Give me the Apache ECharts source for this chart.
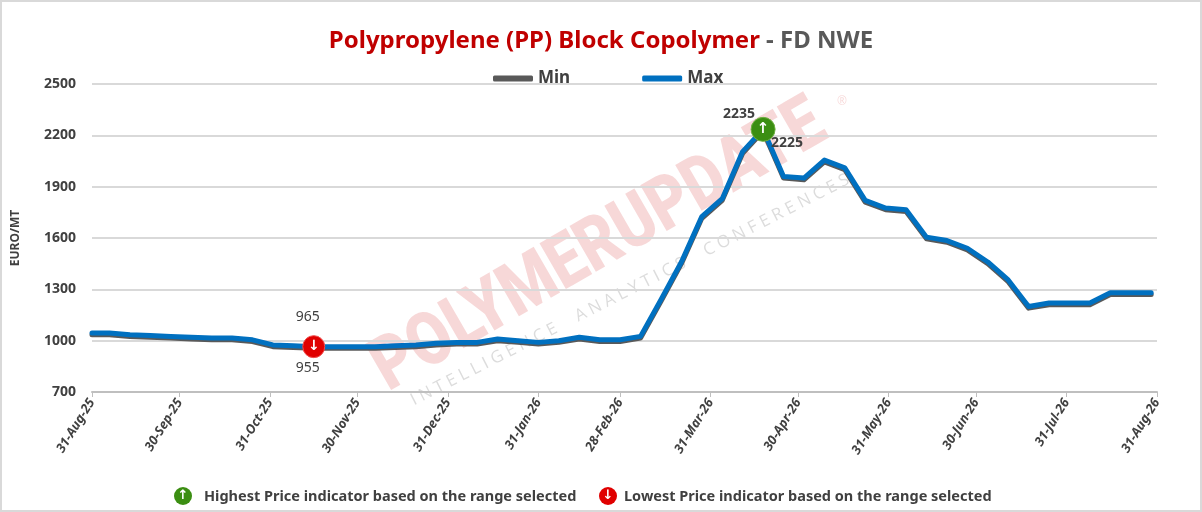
<!DOCTYPE html>
<html lang="en">
<head>
    <meta charset="UTF-8">
    <title>PP Block Copolymer - FD NWE</title>
    <script src="https://cdn.jsdelivr.net/npm/echarts@6/dist/echarts.min.js"></script>
    <style>
        body{margin:0;background:#fff}
        #my{width:1202px;height:512px;box-sizing:border-box;border:2px solid #d9d9d9}
    </style>
</head>
<body>
<div id="my"></div>
<script>
    // weekly prices, EURO/MT
    var dates = ['2025-08-31','2025-09-06','2025-09-13','2025-09-20','2025-09-27','2025-10-04','2025-10-11',
        '2025-10-18','2025-10-25','2025-11-01','2025-11-08','2025-11-15','2025-11-22','2025-11-29',
        '2025-12-06','2025-12-13','2025-12-20','2025-12-27','2026-01-03','2026-01-10','2026-01-17',
        '2026-01-24','2026-01-31','2026-02-07','2026-02-14','2026-02-21','2026-02-28','2026-03-07',
        '2026-03-14','2026-03-21','2026-03-28','2026-04-04','2026-04-11','2026-04-18','2026-04-25',
        '2026-05-02','2026-05-09','2026-05-16','2026-05-23','2026-05-30','2026-06-06','2026-06-13',
        '2026-06-20','2026-06-27','2026-07-04','2026-07-11','2026-07-18','2026-07-25','2026-08-01',
        '2026-08-08','2026-08-15','2026-08-22','2026-08-29']
    var maxPrice = [1045,1045,1035,1030,1025,1020,1015,1015,1005,975,970,965,965,965,
        965,970,975,985,990,990,1010,1000,990,1000,1020,1005,1005,1025,
        1240,1460,1725,1830,2105,2235,1960,1950,2055,2010,1820,1775,1765,1605,
        1585,1540,1460,1355,1200,1220,1220,1220,1280,1280,1280]
    var minPrice = [1035,1035,1025,1020,1015,1010,1005,1005,995,965,960,955,955,955,
        955,960,965,975,980,980,1000,990,980,990,1010,995,995,1015,
        1230,1450,1715,1820,2095,2225,1950,1940,2045,2000,1810,1765,1755,1595,
        1575,1530,1450,1345,1190,1210,1210,1210,1270,1270,1270]
    var tickDates = ['2025-08-31','2025-09-30','2025-10-31','2025-11-30','2025-12-31','2026-01-31',
        '2026-02-28','2026-03-31','2026-04-30','2026-05-31','2026-06-30','2026-07-31','2026-08-31']
    var yTicks = [700,1000,1300,1600,1900,2200,2500]
    var months = ['Jan','Feb','Mar','Apr','May','Jun','Jul','Aug','Sep','Oct','Nov','Dec']

    function toTime(s){
        var p = s.split('-')
        return new Date(+p[0], p[1]-1, +p[2]).getTime()
    }
    function fmt(v){
        var d = new Date(v)
        return d.getDate() + '-' + months[d.getMonth()] + '-' + String(d.getFullYear()).slice(2)
    }

    var times = dates.map(toTime)
    var ticks = tickDates.map(toTime)
    var maxData = times.map(function (t, i) { return [t, maxPrice[i]] })
    var minData = times.map(function (t, i) { return [t, minPrice[i]] })

    // highest / lowest point of the range
    var iHi = 0, iLo = 0
    for (var i = 0; i < maxPrice.length; i++) {
        if (maxPrice[i] > maxPrice[iHi]) iHi = i
        if (minPrice[i] < minPrice[iLo]) iLo = i
    }

    var txt = '#404040'
    var mCharts = echarts.init(document.getElementById('my'))
    var option = {
        animation: false,
        title: {
            text: '{a|Polypropylene (PP) Block Copolymer}{b| - FD NWE}',
            left: 'center',
            top: 22,
            textStyle: {
                rich: {
                    a: {color: '#C00000', fontSize: 24, fontWeight: 'bold', fontFamily: 'Noto Sans'},
                    b: {color: '#595959', fontSize: 24, fontWeight: 'bold', fontFamily: 'Noto Sans'}
                }
            }
        },
        legend: {
            left: 486,
            top: 63,
            itemGap: 72,
            itemWidth: 40,
            itemHeight: 6,
            icon: 'roundRect',
            textStyle: {color: txt, fontSize: 17, fontWeight: 'bold', fontFamily: 'Noto Sans'},
            data: ['Min', 'Max']
        },
        grid: {left: 90, right: 43, top: 82, bottom: 118},
        xAxis: {
            type: 'value',
            min: ticks[0],
            max: ticks[ticks.length - 1],
            axisLine: {lineStyle: {color: '#bfbfbf', width: 2}},
            axisTick: {show: true, customValues: ticks, length: 5, lineStyle: {color: '#bfbfbf'}},
            splitLine: {show: false},
            axisLabel: {
                customValues: ticks,
                rotate: 58,
                margin: 8,
                color: txt,
                fontSize: 13,
                fontStyle: 'italic',
                fontWeight: 'bold',
                fontFamily: 'Noto Sans',
                formatter: fmt
            }
        },
        yAxis: {
            type: 'value',
            min: 700,
            max: 2500,
            interval: 300,
            name: 'EURO/MT',
            nameLocation: 'middle',
            nameGap: 70,
            nameTextStyle: {color: txt, fontSize: 12, fontWeight: 'bold', fontFamily: 'Noto Sans'},
            axisLine: {show: false},
            axisTick: {show: false, customValues: yTicks},
            splitLine: {lineStyle: {color: '#d9d9d9', width: 2}},
            axisLabel: {customValues: yTicks, color: txt, fontSize: 14, fontWeight: 'bold', fontFamily: 'Noto Sans', margin: 16,
                formatter: function (v) { return String(v) }}
        },
        series: [
            {
                name: 'Min',
                type: 'line',
                data: minData,
                showSymbol: false,
                color: '#595959',
                lineStyle: {width: 5, cap: 'round', join: 'round'},
                markPoint: {
                    symbol: 'circle',
                    symbolSize: 0,
                    data: [
                        {coord: minData[iHi], label: {show: true, formatter: String(minPrice[iHi]), position: 'inside', offset: [24, 12],
                            color: txt, fontSize: 14, fontWeight: 'bold', fontFamily: 'Noto Sans'}},
                        {coord: minData[iLo], label: {show: true, formatter: String(minPrice[iLo]), position: 'inside', offset: [-6, 20],
                            color: txt, fontSize: 14, fontFamily: 'Noto Sans'}}
                    ]
                }
            },
            {
                name: 'Max',
                type: 'line',
                data: maxData,
                showSymbol: false,
                color: '#0070C0',
                lineStyle: {width: 5, cap: 'round', join: 'round'},
                markPoint: {
                    symbol: 'circle',
                    data: [
                        {coord: maxData[iHi], symbolSize: 24, itemStyle: {color: '#3B8E12', borderColor: '#6fb043', borderWidth: 1},
                            label: {show: true, formatter: '\u2191', color: '#fff', fontSize: 15, fontWeight: 'bold', fontFamily: 'DejaVu Sans'}},
                        {coord: maxData[iLo], symbolSize: 22, itemStyle: {color: '#E00000', borderColor: '#f05050', borderWidth: 1},
                            label: {show: true, formatter: '\u2193', color: '#fff', fontSize: 14, fontWeight: 'bold', fontFamily: 'DejaVu Sans'}},
                        {coord: maxData[iHi], symbolSize: 0, label: {show: true, formatter: String(maxPrice[iHi]), position: 'inside', offset: [-24, -15],
                            color: txt, fontSize: 14, fontWeight: 'bold', fontFamily: 'Noto Sans'}},
                        {coord: maxData[iLo], symbolSize: 0, label: {show: true, formatter: String(maxPrice[iLo]), position: 'inside', offset: [-6, -30],
                            color: txt, fontSize: 14, fontFamily: 'Noto Sans'}}
                    ]
                }
            }
        ],
        graphic: [
            // watermark
            {type: 'text', x: 598, y: 246, rotation: Math.PI * 30 / 180, scaleY: 1.2, z: -1, silent: true,
                style: {text: 'POLYMERUPDATE', fill: 'rgba(215,60,60,0.20)', font: '900 62px "Roboto"', align: 'center', verticalAlign: 'middle'}},
            {type: 'text', x: 840, y: 100, z: -1, silent: true,
                style: {text: '\u00AE', fill: 'rgba(215,60,60,0.20)', font: '12px "Open Sans"', align: 'center', verticalAlign: 'middle'}},
            {type: 'text', x: 628, y: 288, rotation: Math.PI * 27 / 180, z: -1, silent: true,
                style: {text: 'I N T E L L I G E N C E     A N A L Y T I C S     C O N F E R E N C E S', fill: 'rgba(140,140,140,0.30)',
                    font: '17px "Open Sans"', align: 'center', verticalAlign: 'middle'}},
            // bottom indicator legend
            {type: 'circle', shape: {cx: 181, cy: 494, r: 9}, style: {fill: '#3B8E12'}},
            {type: 'text', x: 181, y: 494, style: {text: '\u2191', fill: '#fff', font: 'bold 13px "DejaVu Sans"', align: 'center', verticalAlign: 'middle'}},
            {type: 'text', x: 202, y: 495, style: {text: 'Highest Price indicator based on the range selected', fill: txt,
                    font: 'bold 14.5px "Noto Sans"', verticalAlign: 'middle'}},
            {type: 'circle', shape: {cx: 606, cy: 494, r: 9}, style: {fill: '#E00000'}},
            {type: 'text', x: 606, y: 494, style: {text: '\u2193', fill: '#fff', font: 'bold 13px "DejaVu Sans"', align: 'center', verticalAlign: 'middle'}},
            {type: 'text', x: 622, y: 495, style: {text: 'Lowest Price indicator based on the range selected', fill: txt,
                    font: 'bold 14.5px "Noto Sans"', verticalAlign: 'middle'}}
        ]
    }
    mCharts.setOption(option)
    window.onresize = mCharts.resize
</script>
</body>
</html>
